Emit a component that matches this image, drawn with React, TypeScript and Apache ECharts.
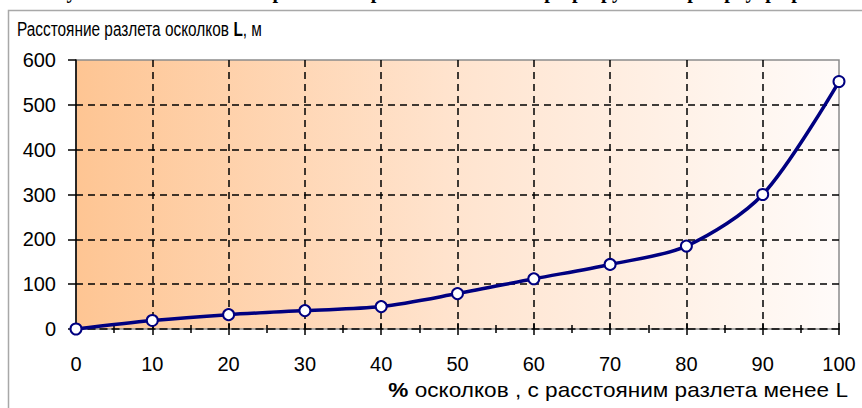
import React, { useEffect, useRef } from "react";
import * as echarts from "echarts";

const percents = [0, 10, 20, 30, 40, 50, 60, 70, 80, 90, 100];
const distances = [0, 19, 32, 41, 50, 79, 112, 144, 185, 300, 552];
const yTitleMain = "Расстояние разлета осколков ";
const yTitleBold = "L";
const yTitleTail = ", м";
const xTitleBold = "%";
const xTitleMain = " осколков , с расстояним разлета менее L";
const topCaption = "Получение зависимости вероятности разлета осколков при разрушении резервуара р";

export default function App() {
  const ref = useRef<HTMLDivElement>(null);
  useEffect(() => {
    if (!ref.current) return;
    const chart = echarts.init(ref.current, null, { renderer: "svg" });
    const font = "Liberation Sans, Arial, sans-serif";
    const dash = { type: [7, 5] as any, color: "#000", width: 1.5 };
    chart.setOption({
      animation: false,
      backgroundColor: "#fff",
      grid: {
        left: 76,
        right: 23,
        top: 60,
        bottom: 79,
        show: true,
        borderColor: "#8c8c8c",
        borderWidth: 1.5,
        backgroundColor: new echarts.graphic.LinearGradient(0, 0, 1, 0, [
          { offset: 0, color: "#FEC593" },
          { offset: 0.5, color: "#FFE4CF" },
          { offset: 1, color: "#FFFBF9" },
        ]),
      },
      xAxis: [
        {
          type: "value",
          min: 0,
          max: 100,
          interval: 10,
          axisLine: { show: true, onZero: false, lineStyle: { color: "#000", type: [7, 5], width: 1.5 } },
          axisTick: { show: true, length: 6, lineStyle: { color: "#000", width: 1.5 } },
          minorTick: { show: true, splitNumber: 2, length: 4, lineStyle: { color: "#000", width: 1.5 } },
          axisLabel: { color: "#000", fontSize: 20, fontFamily: font, margin: 25 },
          splitLine: { show: true, showMinLine: false, showMaxLine: false, lineStyle: dash },
        },
        {
          type: "value",
          min: 0,
          max: 100,
          interval: 10,
          position: "bottom",
          axisLine: { show: false },
          axisTick: { show: true, inside: true, length: 6, lineStyle: { color: "#000", width: 1.5 } },
          minorTick: { show: true, splitNumber: 2, length: 4, lineStyle: { color: "#000", width: 1.5 } },
          axisLabel: { show: false },
          splitLine: { show: false },
        },
      ],
      yAxis: {
        type: "value",
        min: 0,
        max: 600,
        interval: 100,
        axisLine: { show: true, lineStyle: { color: "#000", width: 1.5 } },
        axisTick: { show: true, length: 8, lineStyle: { color: "#000", width: 1.5 } },
        axisLabel: { color: "#000", fontSize: 20, fontFamily: font, margin: 20 },
        splitLine: { show: true, showMinLine: false, showMaxLine: false, lineStyle: dash },
      },
      graphic: [
        {
          type: "rect",
          shape: { x: 8.5, y: 10.5, width: 900, height: 450 },
          style: { fill: "none", stroke: "#a8a8a8", lineWidth: 1.5 },
          z: -1,
        },
        {
          type: "text",
          x: 30,
          y: -19,
          style: {
            text: topCaption,
            font: "bold 20px 'Liberation Serif', serif",
            fill: "#000",
          },
        },
        {
          type: "text",
          x: 17,
          y: 19,
          scaleX: 0.77,
          style: {
            text: `{n|${yTitleMain}}{b|${yTitleBold}}{n|${yTitleTail}}`,
            rich: {
              n: { fontSize: 20, fontFamily: font, fill: "#000" },
              b: { fontSize: 20, fontFamily: font, fontWeight: "bold", fill: "#000" },
            },
          },
        },
        {
          type: "text",
          x: 848,
          y: 380,
          scaleX: 1.13,
          style: {
            text: `{b|${xTitleBold}}{n|${xTitleMain}}`,
            align: "right",
            rich: {
              n: { fontSize: 20, fontFamily: font, fill: "#000" },
              b: { fontSize: 20, fontFamily: font, fontWeight: "bold", fill: "#000" },
            },
          },
        },
      ],
      series: [
        {
          type: "line",
          xAxisIndex: 0,
          data: percents.map((p, i) => [p, distances[i]]),
          smooth: 0.3,
          symbol: "circle",
          symbolSize: 11,
          itemStyle: { color: "#fff", borderColor: "#000080", borderWidth: 2 },
          lineStyle: { color: "#000080", width: 3.5 },
          z: 5,
        },
      ],
    });
    return () => chart.dispose();
  }, []);
  return (
    <div
      ref={ref}
      style={{ position: "fixed", left: 0, top: 0, width: 862, height: 408 }}
    />
  );
}
